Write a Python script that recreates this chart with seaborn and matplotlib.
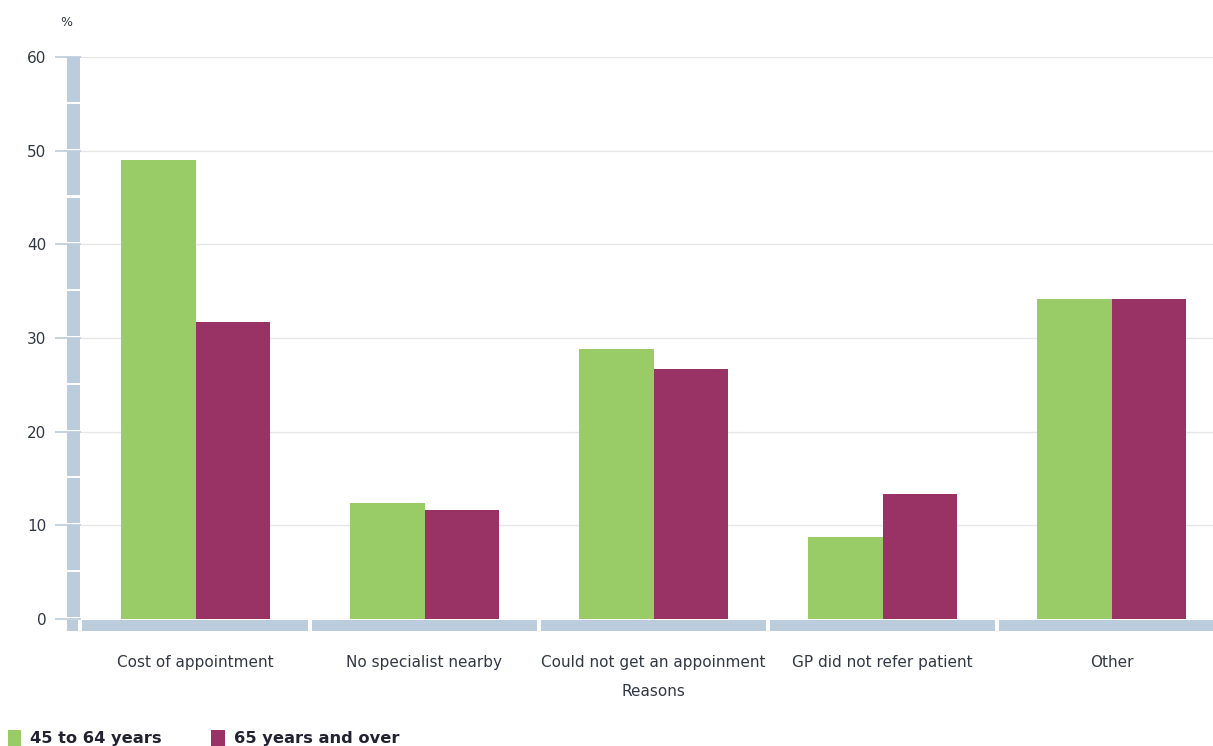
import matplotlib
matplotlib.use("Agg")
import matplotlib.pyplot as plt
import matplotlib.transforms as mtransforms
from matplotlib.patches import Rectangle, Patch
import seaborn as sns
import pandas as pd

categories = ["Cost of appointment", "No specialist nearby", "Could not get an appoinment",
              "GP did not refer patient", "Other"]
series_names = ["45 to 64 years", "65 years and over"]
values_45_64 = [49.0, 12.4, 28.8, 8.8, 34.2]
values_65_over = [31.7, 11.6, 26.7, 13.3, 34.2]
y_ticks = [0, 10, 20, 30, 40, 50, 60]
colors = ["#99CC66", "#993366"]

df = pd.DataFrame({
    "Reason": categories * 2,
    "Group": [series_names[0]] * len(categories) + [series_names[1]] * len(categories),
    "Value": values_45_64 + values_65_over,
})

sns.set_theme(style="white")
plt.rcParams["font.family"] = ["DejaVu Sans"]

W, H = 1213, 746
fig = plt.figure(figsize=(W / 100, H / 100), dpi=100)
ax = fig.add_axes([81 / W, (H - 619) / H, 1145 / W, 562 / H])

sns.barplot(data=df, x="Reason", y="Value", hue="Group", order=categories,
            hue_order=series_names, palette=colors, width=0.655, linewidth=0,
            saturation=1, ax=ax, legend=False, zorder=3)

ax.set_xlim(-0.5, len(categories) - 0.5)
ax.set_ylim(0, 60)
ax.set_yticks(y_ticks)
ax.yaxis.grid(True, color="#E6E6E6", linewidth=1, zorder=0)
ax.set_axisbelow(True)
for s in ax.spines.values():
    s.set_visible(False)

txt_color = "#323844"
bar_color = "#BBCCDD"
ax.tick_params(axis="y", direction="out", length=19, width=1.2, color=bar_color,
               pad=6, labelsize=11, labelcolor=txt_color, left=True)
ax.tick_params(axis="x", length=0, pad=26, labelsize=11, labelcolor=txt_color)
ax.set_xlabel("Reasons", fontsize=11, color=txt_color, labelpad=10)
ax.set_ylabel("")

# Left thick axis bar, segmented every 5 units
trans_l = mtransforms.blended_transform_factory(fig.transFigure, ax.transData)
x0, xw = 67 / W, 13 / W
step = 5
gap = 0.22
for k in range(0, 60, step):
    ax.add_patch(Rectangle((x0, k + gap), xw, step - gap, transform=trans_l,
                           facecolor=bar_color, edgecolor="none", clip_on=False, zorder=4))
# corner square
ax.add_patch(Rectangle((x0, (H - 631) / H), 11 / W, 11 / H, transform=fig.transFigure,
                       facecolor=bar_color, edgecolor="none", clip_on=False, zorder=4))

# Bottom thick bar, segmented per category
trans_b = mtransforms.blended_transform_factory(ax.transData, fig.transFigure)
g = 0.007
for i in range(len(categories)):
    left = i - 0.5 + (g if i > 0 else 0.004)
    ax.add_patch(Rectangle((left, (H - 631) / H), 1 - 2 * g, 11 / H, transform=trans_b,
                           facecolor=bar_color, edgecolor="none", clip_on=False, zorder=4))

fig.text(66 / W, 1 - 22 / H, "%", fontsize=9, color=txt_color, ha="center", va="center")

handles = [Patch(facecolor=c, edgecolor="none", label=n) for c, n in zip(colors, series_names)]
leg = fig.legend(handles=handles, loc="center left", bbox_to_anchor=(6 / W, (H - 738) / H),
                 ncol=2, frameon=False, handlelength=0.85, handleheight=1.2, handletextpad=0.55,
                 columnspacing=3.0, borderaxespad=0, borderpad=0.1,
                 prop={"weight": "bold", "size": 11.7})
for t in leg.get_texts():
    t.set_color("#222233")

fig.savefig("out.png", dpi=100)
